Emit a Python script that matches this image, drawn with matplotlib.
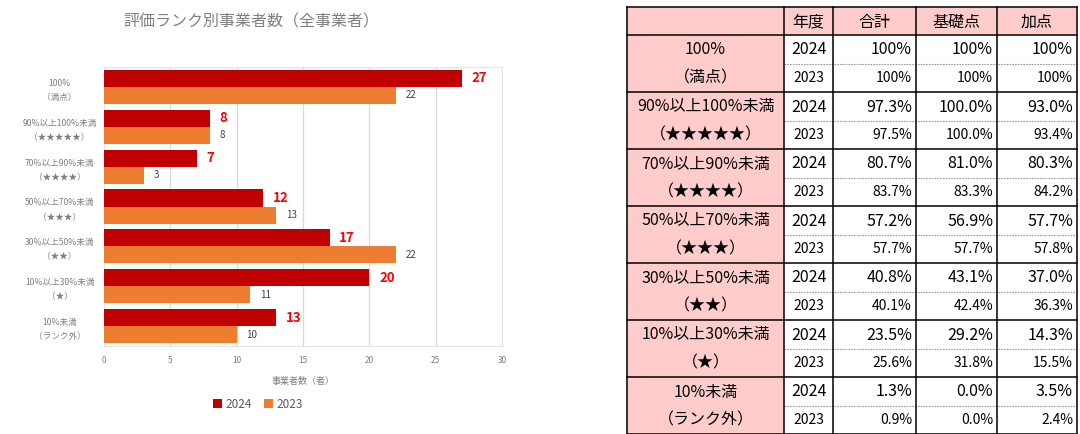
import matplotlib
matplotlib.use("Agg")
import matplotlib.pyplot as plt
from matplotlib.patches import Rectangle
import numpy as np

plt.rcParams['font.family'] = ['Noto Sans CJK JP', 'DejaVu Sans']

## Données du graphique
categories = ["100%\n（満点）", "90%以上100%未満\n（★★★★★）", "70%以上90%未満\n（★★★★）",
              "50%以上70%未満\n（★★★）", "30%以上50%未満\n（★★）", "10%以上30%未満\n（★）",
              "10%未満\n（ランク外）"]
count_2024 = [27, 8, 7, 12, 17, 20, 13]
count_2023 = [22, 8, 3, 13, 22, 11, 10]
x_ticks = [0, 5, 10, 15, 20, 25, 30]

## Données du tableau
rank_line1 = ["100%", "90%以上100%未満", "70%以上90%未満", "50%以上70%未満",
              "30%以上50%未満", "10%以上30%未満", "10%未満"]
rank_line2 = ["（満点）", "（★★★★★）", "（★★★★）", "（★★★）", "（★★）", "（★）", "（ランク外）"]
header = ["", "年度", "合計", "基礎点", "加点"]
years = ["2024", "2023"]
total_2024 = ["100%", "97.3%", "80.7%", "57.2%", "40.8%", "23.5%", "1.3%"]
total_2023 = ["100%", "97.5%", "83.7%", "57.7%", "40.1%", "25.6%", "0.9%"]
base_2024 = ["100%", "100.0%", "81.0%", "56.9%", "43.1%", "29.2%", "0.0%"]
base_2023 = ["100%", "100.0%", "83.3%", "57.7%", "42.4%", "31.8%", "0.0%"]
bonus_2024 = ["100%", "93.0%", "80.3%", "57.7%", "37.0%", "14.3%", "3.5%"]
bonus_2023 = ["100%", "93.4%", "84.2%", "57.8%", "36.3%", "15.5%", "2.4%"]

c2024 = "#C00000"
c2023 = "#ED7D31"
gris = "#7F7F7F"
rose = "#FFCCCC"

W, H = 1080, 434
fig = plt.figure(figsize=(W / 100, H / 100), dpi=100)

#On dessine le tableau dans un axe en pixels
tab = fig.add_axes([0, 0, 1, 1])
tab.set_xlim(0, W)
tab.set_ylim(H, 0)
tab.axis("off")

cols = [627, 784, 833, 916, 997, 1077]
top, head_h, block_h = 7, 28, 57
half = 29

# fond rose de l'entete et de la premiere colonne
tab.add_patch(Rectangle((cols[0], top), cols[-1] - cols[0], head_h, facecolor=rose, edgecolor="none"))
tab.add_patch(Rectangle((cols[0], top + head_h), cols[1] - cols[0], block_h * len(rank_line1),
                        facecolor=rose, edgecolor="none"))

for j in range(1, len(header)):
    tab.text((cols[j] + cols[j + 1]) / 2, top + head_h / 2 + 1, header[j], ha="center", va="center",
             fontsize=11.5, color="black")

colonnes = [(total_2024, total_2023), (base_2024, base_2023), (bonus_2024, bonus_2023)]
for i in range(len(rank_line1)):
    y0 = top + head_h + i * block_h
    yc1 = y0 + half / 2 + 0.5
    yc2 = y0 + half + (block_h - half) / 2
    tab.text((cols[0] + cols[1]) / 2, yc1, rank_line1[i], ha="center", va="center", fontsize=11.5)
    tab.text((cols[0] + cols[1]) / 2, yc2, rank_line2[i], ha="center", va="center", fontsize=11.5)
    tab.text((cols[1] + cols[2]) / 2, yc1, years[0], ha="center", va="center", fontsize=11.5)
    tab.text((cols[1] + cols[2]) / 2, yc2, years[1], ha="center", va="center", fontsize=10)
    for k, (v24, v23) in enumerate(colonnes):
        xr = cols[k + 3] - 4
        tab.text(xr, yc1, v24[i], ha="right", va="center", fontsize=11.5)
        tab.text(xr, yc2, v23[i], ha="right", va="center", fontsize=10)
    # ligne pointillee entre 2024 et 2023
    tab.plot([cols[1], cols[-1]], [y0 + half, y0 + half], color="#9A9A9A", lw=0.8,
             linestyle=(0, (1.5, 1)))
    # ligne du bas du bloc
    tab.plot([cols[0], cols[-1]], [y0 + block_h, y0 + block_h], color="black", lw=1.1)

bas = top + head_h + block_h * len(rank_line1) - 1
tab.plot([cols[0], cols[-1]], [top, top], color="black", lw=1.1)
tab.plot([cols[0], cols[-1]], [top + head_h, top + head_h], color="black", lw=1.1)
for x in cols:
    tab.plot([x, x], [top, bas], color="black", lw=1.1)

#On prepare le graphique en barres
ax = fig.add_axes([104 / W, 1 - 346 / H, 398 / W, 279 / H])
y = np.arange(len(categories))
bh = 0.43
ax.barh(y - bh / 2, count_2024, height=bh, color=c2024, label="2024", zorder=3)
ax.barh(y + bh / 2, count_2023, height=bh, color=c2023, label="2023", zorder=3)
ax.set_ylim(len(categories) - 0.5, -0.5)
ax.set_xlim(0, 30)
ax.set_xticks(x_ticks)
ax.grid(axis="x", color="#D9D9D9", lw=0.9, zorder=0)
for s in ax.spines.values():
    s.set_color("#E3E3E3")
ax.tick_params(axis="both", length=0, colors=gris, labelsize=6)
ax.tick_params(axis="x", pad=7)
ax.set_yticks(y)
ax.set_yticklabels(categories, fontsize=6.2, linespacing=1.75)
for lab in ax.get_yticklabels():
    lab.set_horizontalalignment("center")
ax.tick_params(axis="y", pad=32)

for i in range(len(categories)):
    ax.annotate(str(count_2024[i]), (count_2024[i], y[i] - bh / 2), xytext=(7, 0),
                textcoords="offset points", ha="left", va="center", color="#FF0000",
                fontsize=9.5, fontweight="bold")
    ax.annotate(str(count_2023[i]), (count_2023[i], y[i] + bh / 2), xytext=(7, 0),
                textcoords="offset points", ha="left", va="center", color="#404040", fontsize=7)

ax.set_xlabel("事業者数（者）", fontsize=6.5, color=gris, labelpad=9)
fig.text(251 / W, 1 - 22 / H, "評価ランク別事業者数（全事業者）", ha="center", va="center",
         fontsize=11.5, color="#808080")
ax.legend(loc="center", bbox_to_anchor=(258 / W, 1 - 404 / H), bbox_transform=fig.transFigure,
          ncol=2, frameon=False, fontsize=8.5, labelcolor="#595959", handlelength=0.8,
          handleheight=0.8, handletextpad=0.3, columnspacing=1.0)

fig.savefig("out.png", dpi=100)
